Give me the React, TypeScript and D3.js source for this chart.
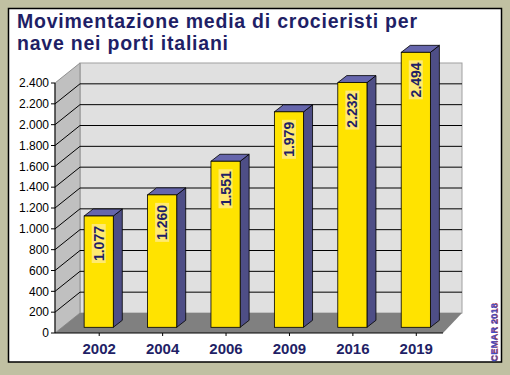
import React from "react";
import * as d3 from "d3";

const categories: string[] = ["2002", "2004", "2006", "2009", "2016", "2019"];
const values: number[] = [1077, 1260, 1551, 1979, 2232, 2494];
const yTicks: number[] = [0, 200, 400, 600, 800, 1000, 1200, 1400, 1600, 1800, 2000, 2200, 2400];
const titleLines: string[] = ["Movimentazione media di crocieristi per", "nave nei porti italiani"];
const credit = "CEMAR 2018";

const W = 510;
const H = 375;
const FONT = "'Liberation Sans', Arial, Helvetica, sans-serif";
const NAVY = "#1F1F66";

const itFormat = d3.formatLocale({ decimal: ",", thousands: ".", grouping: [3], currency: ["", "€"] }).format(",");

export default function App() {
  const frontL = 55;
  const frontR = 443;
  const backL = 80;
  const backR = 462;
  const depthY = -20;
  const yAxis = d3.scaleLinear().domain([0, 2400]).range([333, 83]);
  const floorY = yAxis(0);

  const x = d3.scaleBand<string>().domain(categories).range([67, 447.5]).paddingInner(0.54).paddingOuter(0.27);
  const barY = d3.scaleLinear().domain([0, 2400]).range([340.4, 63.2]);
  const barBottom = 327.3;
  const bdx = 9;
  const bdy = -7;

  const leftWall = `M${frontL},${floorY}L${backL},${floorY + depthY}L${backL},${yAxis(2400) + depthY}L${frontL},${yAxis(2400)}Z`;
  const floor = `M${frontL},${floorY}L${frontR},${floorY}L${backR},${floorY + depthY}L${backL},${floorY + depthY}Z`;

  return (
    <svg width={W} height={H} style={{ position: "fixed", left: 0, top: 0, display: "block" }} fontFamily={FONT}>
      <rect x={0} y={0} width={W} height={H} fill="#C0C0A2" />
      <rect x={8.5} y={8.5} width={493} height={353.5} fill="#FFFFFF" stroke="#000" strokeWidth={1.5} />

      {titleLines.map((t, i) => (
        <text key={t} x={17} y={28 + i * 22} fontSize={19.5} fontWeight="bold" fill={NAVY}
          textLength={i === 0 ? 400 : 211} lengthAdjust="spacing">
          {t}
        </text>
      ))}

      <rect x={backL} y={yAxis(2400) + depthY} width={backR - backL} height={yAxis(0) - yAxis(2400)}
        fill="#E0E0E0" stroke="#A0A0A0" strokeWidth={1} />
      <path d={leftWall} fill="#C0C0C0" stroke="#909090" strokeWidth={1} />
      {yTicks.filter((v) => v > 0 && v < 2400).map((v) => (
        <g key={v}>
          <line x1={backL} x2={backR} y1={yAxis(v) + depthY} y2={yAxis(v) + depthY} stroke="#000" strokeWidth={1} />
          <line x1={frontL} x2={backL} y1={yAxis(v)} y2={yAxis(v) + depthY} stroke="#000" strokeWidth={1} />
        </g>
      ))}
      <path d={floor} fill="#808080" />

      {categories.map((c, i) => {
        const x0 = x(c)!;
        const x1 = x0 + x.bandwidth();
        const top = barY(values[i]);
        const cx = (x0 + x1) / 2;
        const side = `M${x1},${top}L${x1 + bdx},${top + bdy}L${x1 + bdx},${barBottom + bdy}L${x1},${barBottom}Z`;
        const topFace = `M${x0},${top}L${x0 + bdx},${top + bdy}L${x1 + bdx},${top + bdy}L${x1},${top}Z`;
        const ly = top + 8;
        return (
          <g key={c}>
            <path d={side} fill="#4E4E86" stroke="#000" strokeWidth={0.8} strokeLinejoin="round" />
            <path d={topFace} fill="#6666AC" stroke="#000" strokeWidth={0.8} strokeLinejoin="round" />
            <rect x={x0} y={top} width={x1 - x0} height={barBottom - top} fill="#FFE300" stroke="#000" strokeWidth={0.8} />
            <rect x={cx - 7} y={ly} width={14} height={39} fill="#FFEA70" />
            <text transform={`translate(${cx},${ly + 2}) rotate(-90)`} textAnchor="end" dy="0.36em"
              fontSize={14} fontWeight="bold" fill={NAVY}>
              {itFormat(values[i])}
            </text>
          </g>
        );
      })}

      <line x1={frontL} x2={frontL} y1={yAxis(0)} y2={yAxis(2400)} stroke="#000" strokeWidth={1} />
      <line x1={frontL} x2={frontR} y1={floorY} y2={floorY} stroke="#000" strokeWidth={1.2} />
      {yTicks.map((v) => (
        <g key={v}>
          <line x1={51} x2={frontL} y1={yAxis(v)} y2={yAxis(v)} stroke="#000" strokeWidth={1} />
          <text x={49} y={yAxis(v)} dy="0.36em" textAnchor="end" fontSize={12} fill="#000">
            {itFormat(v)}
          </text>
        </g>
      ))}
      {categories.map((c) => {
        const tx = x(c)! + x.bandwidth() / 2 + 0.5;
        return (
          <g key={c}>
            <line x1={tx} x2={tx} y1={floorY} y2={floorY + 3} stroke="#000" strokeWidth={1} />
            <text x={tx} y={354} textAnchor="middle" fontSize={15} fontWeight="bold" fill={NAVY}>
              {c}
            </text>
          </g>
        );
      })}

      <text transform="translate(494.5,332.5) rotate(-90)" textAnchor="middle" dy="0.36em" fontSize={9.5}
        fontWeight="bold" fill="#D04040" dx={0.4}>
        {credit}
      </text>
      <text transform="translate(494,332.5) rotate(-90)" textAnchor="middle" dy="0.36em" fontSize={9.5}
        fontWeight="bold" fill="#3F4FC8">
        {credit}
      </text>
    </svg>
  );
}
